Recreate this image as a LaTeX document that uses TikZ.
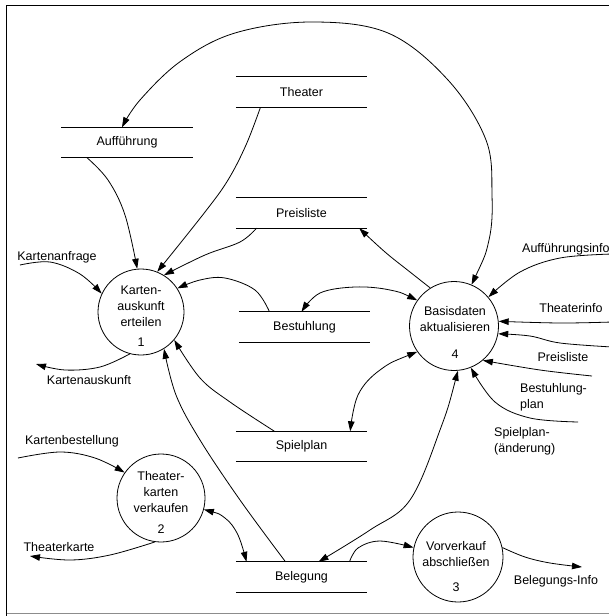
\documentclass[tikz,border=0pt]{standalone}
\usepackage{fontspec}
\setmainfont{Liberation Sans}
\usetikzlibrary{arrows.meta}
\begin{document}
\begin{tikzpicture}[x=1pt,y=-1pt,
  tipA/.tip={Triangle[length=10pt,width=6.5pt]},
  flow/.style={line width=0.8pt,-tipA},
  flowboth/.style={line width=0.8pt,tipA-tipA},
  lbl/.style={font=\fontsize{12.5}{16}\selectfont,inner sep=0pt},
  store/.style={minimum width=131pt,minimum height=30pt,inner sep=0pt,
                font=\fontsize{12.5}{16}\selectfont},
  proc/.style={circle,draw,line width=0.8pt,inner sep=0pt},
  sm/.style={smooth,tension=0.6}]
\useasboundingbox (0,0) rectangle (609,616);
\clip (0,0) rectangle (609,616);

% frame
\draw[line width=1pt] (6.5,616) -- (6.5,5.5) -- (609,5.5);
\draw[line width=1pt,black!45] (6.5,613.5) -- (609,613.5);

% data stores
\node[store] (the) at (301.5,92)    {Theater};
\node[store] (auf) at (127,142.5)   {Aufführung};
\node[store] (pre) at (301.5,213)   {Preisliste};
\node[store] (bes) at (304.5,327)   {Bestuhlung};
\node[store] (spi) at (301.5,446.5) {Spielplan};
\node[store] (bel) at (301.5,577)   {Belegung};
\foreach \s in {the,auf,pre,bes,spi,bel}
  \draw[line width=0.8pt] (\s.north west) -- (\s.north east)
                          (\s.south west) -- (\s.south east);

% processes
\node[proc,minimum size=86pt] (c1) at (141,312) {};
\node[lbl,align=center] (c1t) at (141,306) {Karten-\\auskunft\\erteilen};
\node[lbl] (c1n) at (141,342) {1};

\node[proc,minimum size=89pt] (c2) at (454,326) {};
\node[lbl,align=center] (c2t) at (455,319) {Basisdaten\\aktualisieren};
\node[lbl] (c2n) at (455,354) {4};

\node[proc,minimum size=88pt] (c3) at (161,498) {};
\node[lbl,align=center] (c3t) at (161,492) {Theater-\\karten\\verkaufen};
\node[lbl] (c3n) at (161,529) {2};

\node[proc,minimum size=90pt] (c4) at (458,557) {};
\node[lbl,align=center] (c4t) at (456,554) {Vorverkauf\\abschließen};
\node[lbl] (c4n) at (456,587) {3};

% flow labels
\node[lbl] (kanf) at (57,257) {Kartenanfrage};
\node[lbl] (kausL) at (89,380) {Kartenauskunft};
\node[lbl] (kbes) at (72,441) {Kartenbestellung};
\node[lbl] (tkL) at (59,547) {Theaterkarte};
\node[lbl,anchor=west] (aiL) at (522,249) {Aufführungsinfo};
\node[lbl] (tiL) at (571,308) {Theaterinfo};
\node[lbl] (prL) at (563,357) {Preisliste};
\node[lbl,anchor=west,align=left] (bpL) at (520,397) {Bestuhlung-\\plan};
\node[lbl,anchor=west,align=left] (spL) at (494,441) {Spielplan-\\(änderung)};
\node[lbl] (biL) at (556,581) {Belegungs-Info};

% free ends of external flows
\coordinate (ka) at (20,265);
\coordinate (kaus) at (36,364);
\coordinate (kb) at (18,458);
\coordinate (tk) at (30,556);
\coordinate (ai) at (612,254);
\coordinate (ti) at (612,322);
\coordinate (pr) at (612,347);
\coordinate (bp) at (592,376);
\coordinate (sp) at (578,422);
\coordinate (bi) at (582,567);

% flows around "Karten-auskunft erteilen"
\draw[flow] plot[sm] coordinates {(ka) (50,262) (80,274) (c1.155)};
\draw[flow] plot[sm] coordinates {(c1.-105) (100,367) (65,370) (kaus)};
\draw[flow] plot[sm] coordinates {([xshift=-40pt]auf.south) (108,180) (125,215) (c1.95)};
\draw[flow] plot[sm] coordinates {([xshift=-41pt]the.south) (246,145) (228,180) (205,212) (c1.68)};
\draw[flow] plot[sm] coordinates {([xshift=-45pt]pre.south) (240,242) (205,255) (c1.58)};
\draw[flow] plot[sm] coordinates {([xshift=-35pt]bes.north) (255,290) (225,278) (200,280) (c1.33)};
\draw[flow] plot[sm] coordinates {([xshift=-27pt]spi.north) (230,402) (200,378) (c1.-40)};
\draw[flow] plot[sm] coordinates {([xshift=-16pt]bel.north) (240,500) (200,440) (176,395) (c1.-58)};

% flows around "Theaterkarten verkaufen"
\draw[flow] plot[sm] coordinates {(kb) (60,452) (95,458) (c3.145)};
\draw[flow] plot[sm] coordinates {(c3.-98) (110,555) (70,560) (tk)};
\draw[flowboth] plot[sm] coordinates {(c3.-15) (225,518) (238,535) ([xshift=-55pt]bel.north)};

% flows around "Basisdaten aktualisieren"
\draw[flowboth] plot[sm] coordinates {(c2.67) (489,240) (492,195) (486,140) (448,80)
   (388,33) (311,22) (235,33) (181,61) (140,100) ([xshift=-5pt]auf.north)};
\draw[flowboth] plot[sm] coordinates {(c2.145) (390,290) (355,287) (320,293) ([xshift=-3pt]bes.north)};
\draw[flow] plot[sm] coordinates {(c2.122) (410,272) (385,252) ([xshift=-8pt]pre.south east)};
\draw[flowboth] plot[sm] coordinates {(c2.215) (380,370) (358,395) ([xshift=-17pt]spi.north east)};
\draw[flowboth] plot[sm] coordinates {(c2.-85) (440,430) (410,500) (370,530) ([xshift=17pt]bel.north)};
\draw[flow] plot[sm] coordinates {(ai) (560,258) (520,272) (c2.40)};
\draw[flow] plot[sm] coordinates {(ti) (560,323) (c2.6)};
\draw[flow] plot[sm] coordinates {(pr) (560,343) (530,336) (c2.-10)};
\draw[flow] plot[sm] coordinates {(bp) (540,370) (c2.-50)};
\draw[flow] plot[sm] coordinates {(sp) (530,418) (495,402) (c2.-68)};

% flows around "Vorverkauf abschließen"
\draw[flow] plot[sm] coordinates {([xshift=48pt]bel.north) (358,548) (380,541) (c4.168)};
\draw[flow] plot[sm] coordinates {(c4.12) (525,557) (550,563) (bi)};
\end{tikzpicture}
\end{document}
